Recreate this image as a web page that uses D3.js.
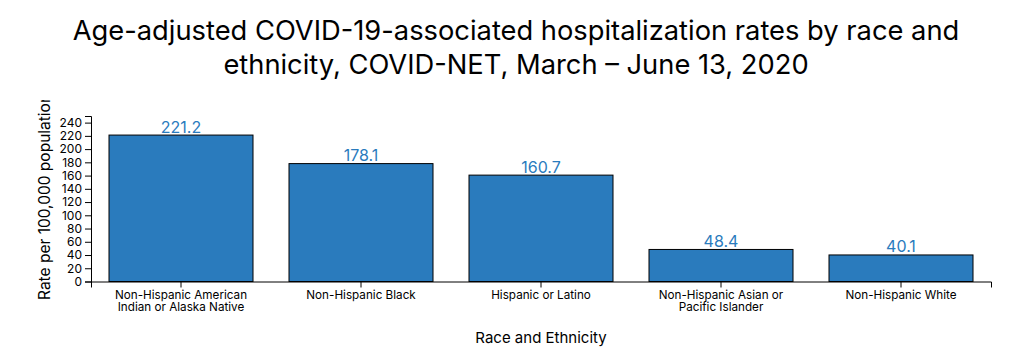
<!DOCTYPE html>
<html>
<head>
<meta charset="utf-8">
<script src="https://cdn.jsdelivr.net/npm/d3@7"></script>
<style>
  html, body { margin: 0; padding: 0; background: #fff; }
  svg { display: block; font-family: Inter, "Liberation Sans", Arial, sans-serif; }
</style>
</head>
<body>
<svg id="chart" width="1011" height="359"></svg>
<script>
const titleLines = ["Age-adjusted COVID-19-associated hospitalization rates by race and",
                    "ethnicity, COVID-NET, March \u2013 June 13, 2020"];
const categories = [
  ["Non-Hispanic American", "Indian or Alaska Native"],
  ["Non-Hispanic Black"],
  ["Hispanic or Latino"],
  ["Non-Hispanic Asian or", "Pacific Islander"],
  ["Non-Hispanic White"]
];
const values = [221.2, 178.1, 160.7, 48.4, 40.1];
const yTicks = [0, 20, 40, 60, 80, 100, 120, 140, 160, 180, 200, 220, 240];
const yLabel = "Rate per 100,000 population";
const xLabel = "Race and Ethnicity";

const FONT = "Inter, 'Liberation Sans', Arial, sans-serif";
const svg = d3.select("#chart");
const W = 1011;
const mLeft = 91, mRight = 991, mTop = 116, mBottom = 281.5;

// Title
const title = svg.append("text")
  .attr("text-anchor", "middle")
  .attr("font-size", 27.3)
  .attr("fill", "#000");
titleLines.forEach((t, i) => {
  title.append("tspan").attr("x", 516).attr("y", 40 + i * 34).text(t);
});

const keys = categories.map((c, i) => i);
const x = d3.scaleBand().domain(keys).range([mLeft, mRight]).paddingInner(0.2).paddingOuter(0.1);
const y = d3.scaleLinear().domain([0, 250]).range([mBottom, mTop]);

// bars
svg.append("g").selectAll("rect").data(values).join("rect")
  .attr("x", (d, i) => x(i))
  .attr("y", d => y(d))
  .attr("width", x.bandwidth())
  .attr("height", d => y(0) - y(d))
  .attr("fill", "#2a7bbd")
  .attr("stroke", "#000")
  .attr("stroke-width", 1);

// value labels
svg.append("g").selectAll("text").data(values).join("text")
  .attr("x", (d, i) => x(i) + x.bandwidth() / 2)
  .attr("y", d => y(d) - 2.5)
  .attr("text-anchor", "middle")
  .attr("font-size", 16)
  .attr("fill", "#2a7bbd")
  .text(d => d.toFixed(1));

// y axis
const yAxis = svg.append("g")
  .attr("transform", `translate(${mLeft},0)`)
  .call(d3.axisLeft(y).tickValues(yTicks).tickSizeOuter(6));
yAxis.selectAll("text").attr("font-size", 12).attr("font-family", FONT).attr("fill", "#000");

// x axis
const xAxis = svg.append("g")
  .attr("transform", `translate(0,${mBottom})`)
  .call(d3.axisBottom(x).tickFormat(() => "").tickSizeOuter(6));
xAxis.selectAll(".tick").each(function(d) {
  const t = d3.select(this).append("text")
    .attr("fill", "#000")
    .attr("font-size", 11.7)
    .attr("font-family", FONT)
    .attr("text-anchor", "middle");
  categories[d].forEach((line, j) => {
    t.append("tspan").attr("x", 0).attr("y", 17 + j * 12).text(line);
  });
});

// axis labels
svg.append("defs").append("clipPath").attr("id", "clipTop")
  .append("rect").attr("x", 0).attr("y", 100).attr("width", W).attr("height", 259);
svg.append("g").attr("clip-path", "url(#clipTop)")
  .append("text")
  .attr("transform", `translate(50,300) rotate(-90)`)
  .attr("text-anchor", "start")
  .attr("font-size", 15.5)
  .attr("fill", "#000")
  .text(yLabel);

svg.append("text")
  .attr("x", (mLeft + mRight) / 2)
  .attr("y", 343)
  .attr("text-anchor", "middle")
  .attr("font-size", 15)
  .attr("fill", "#000")
  .text(xLabel);
</script>
</body>
</html>
